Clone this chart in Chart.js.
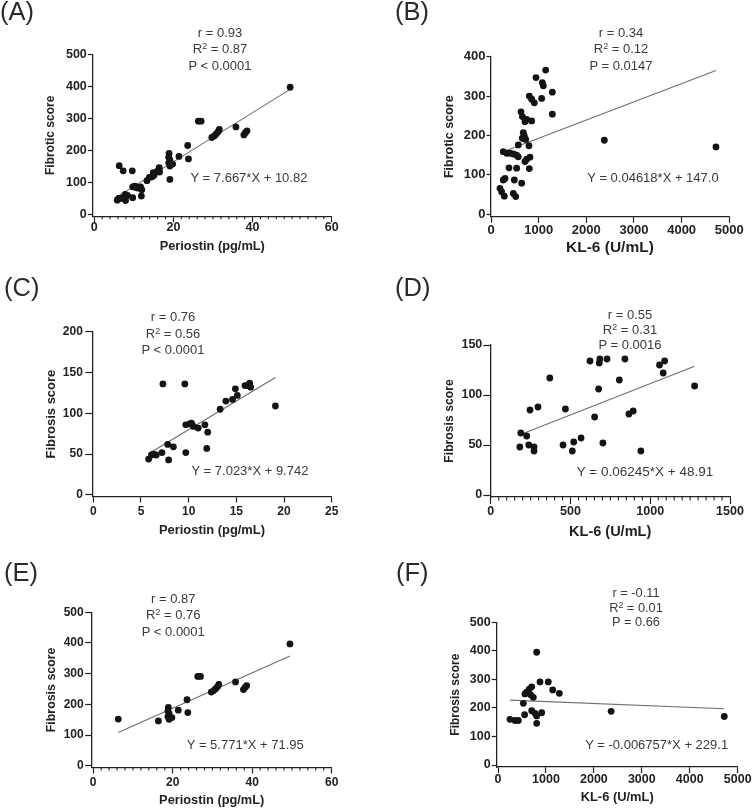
<!DOCTYPE html>
<html>
<head>
<meta charset="utf-8">
<script src="https://cdn.jsdelivr.net/npm/chart.js@4.4.1/dist/chart.umd.min.js"></script>
<style>
html,body{margin:0;padding:0;background:#fff;}
body{width:752px;height:809px;position:relative;overflow:hidden;font-family:"Liberation Sans",Arial,Helvetica,sans-serif;}
canvas{position:absolute;left:0;top:0;}
.lbl{position:absolute;font-size:25.5px;line-height:25.5px;color:#2a2a2a;white-space:nowrap;}
.stat{position:absolute;text-align:center;color:#3a3a3a;white-space:nowrap;transform:translateX(-50%);}
.stat sup{font-size:0.68em;line-height:0;vertical-align:0.5em;}
.eq{position:absolute;color:#3a3a3a;white-space:nowrap;transform:translate(-50%,-50%);}
</style>
</head>
<body>
<canvas id="cA" width="752" height="809"></canvas>
<canvas id="cB" width="752" height="809"></canvas>
<canvas id="cC" width="752" height="809"></canvas>
<canvas id="cD" width="752" height="809"></canvas>
<canvas id="cE" width="752" height="809"></canvas>
<canvas id="cF" width="752" height="809"></canvas>
<div id="overlay"></div>
<script>
// ---------------- DATA ----------------
// (C) Periostin vs Fibrosis score
const C_x = [7.3, 9.6, 5.8, 6.1, 6.3, 6.6, 7.2, 7.8, 7.9, 8.4, 9.7, 9.7, 10.1, 10.3, 10.5, 11.0, 11.7, 12.0, 11.9, 13.3, 13.9, 14.6, 14.9, 15.1, 15.9, 16.1, 16.4, 16.5, 19.1];
const C_y = [136, 136, 44, 49, 50, 49, 52, 62, 43, 59, 52, 86, 87, 88, 84, 82, 86, 77, 57, 105, 115, 117, 130, 122, 134, 134, 137, 132, 109];
// (E) Periostin vs Fibrosis score
const E_x = [6.3, 16.4, 18.9, 18.8, 19.1, 18.8, 19.1, 19.8, 21.4, 23.6, 23.8, 26.3, 27.0, 29.7, 30.3, 30.8, 31.3, 31.6, 35.8, 37.8, 38.2, 38.6, 49.5];
const E_y = [152, 146, 190, 178, 170, 160, 151, 157, 181, 215, 173, 291, 291, 240, 245, 251, 258, 265, 273, 248, 255, 261, 397];
// (A) Periostin vs Fibrotic score: all patients of (C) and (E)
const A_x = C_x.concat(E_x);
const A_y = C_y.concat(E_y);
// (B) KL-6 vs Fibrotic score
const B_x = [1147, 944, 1077, 1098, 1287, 804, 853, 909, 1063, 1287, 629, 658, 713, 748, 853, 678, 699, 657, 728, 573, 797, 258, 329, 399, 468, 538, 573, 818, 748, 713, 378, 538, 804, 294, 258, 489, 643, 189, 224, 279, 468, 518, 2378, 4720];
const B_y = [366, 347, 334, 326, 310, 300, 292, 283, 294, 254, 260, 248, 235, 241, 237, 207, 199, 193, 190, 176, 174, 159, 155, 155, 153, 150, 146, 145, 140, 134, 118, 117, 116, 91, 87, 87, 79, 66, 57, 46, 53, 45, 188, 171];
// (D) KL-6 vs Fibrosis score
const D_x = [182, 188, 225, 238, 246, 271, 271, 296, 370, 453, 468, 511, 520, 566, 622, 651, 676, 680, 684, 729, 703, 806, 841, 866, 893, 941, 1058, 1081, 1090, 1278];
const D_y = [48, 62, 59, 50, 85, 48, 44, 88, 117, 50, 86, 44, 53, 57, 134, 78, 106, 132, 136, 136, 52, 115, 136, 81, 84, 44, 130, 122, 134, 109];
// (F) KL-6 vs Fibrosis score
const F_x = [807, 876, 1049, 1141, 1279, 703, 653, 598, 563, 682, 737, 528, 250, 355, 424, 555, 703, 772, 911, 807, 807, 2360, 4720];
const F_y = [395, 291, 291, 263, 251, 274, 266, 255, 249, 246, 237, 216, 160, 156, 156, 176, 190, 181, 183, 172, 146, 188, 170];

// regression line end points (x, y) as drawn
const A_fit = [[5.8, 55.3], [49.5, 390.3]];
const B_fit = [[189, 155.7], [4720, 365.0]];
const C_fit = [[5.8, 50.5], [19.1, 143.9]];
const D_fit = [[182, 60.3], [1278, 128.7]];
const E_fit = [[6.3, 108.3], [49.5, 357.6]];
const F_fit = [[250, 227.4], [4720, 197.2]];

// tick labels
const A_xticks = [0, 20, 40, 60],            A_yticks = [0, 100, 200, 300, 400, 500];
const B_xticks = [0, 1000, 2000, 3000, 4000, 5000], B_yticks = [0, 100, 200, 300, 400];
const C_xticks = [0, 5, 10, 15, 20, 25],     C_yticks = [0, 50, 100, 150, 200];
const D_xticks = [0, 500, 1000, 1500],       D_yticks = [0, 50, 100, 150];
const E_xticks = [0, 20, 40, 60],            E_yticks = [0, 100, 200, 300, 400, 500];
const F_xticks = [0, 1000, 2000, 3000, 4000, 5000], F_yticks = [0, 100, 200, 300, 400, 500];

// texts
const labels = ['(A)', '(B)', '(C)', '(D)', '(E)', '(F)'];
const xTitles = ['Periostin (pg/mL)', 'KL-6 (U/mL)', 'Periostin (pg/mL)', 'KL-6 (U/mL)', 'Periostin (pg/mL)', 'KL-6 (U/mL)'];
const yTitles = ['Fibrotic score', 'Fibrotic score', 'Fibrosis score', 'Fibrosis score', 'Fibrosis score', 'Fibrosis score'];
const rTexts = ['r = 0.93', 'r = 0.34', 'r = 0.76', 'r = 0.55', 'r = 0.87', 'r = -0.11'];
const r2Texts = ['0.87', '0.12', '0.56', '0.31', '0.76', '0.01'];
const pTexts = ['P < 0.0001', 'P = 0.0147', 'P < 0.0001', 'P = 0.0016', 'P < 0.0001', 'P = 0.66'];
const eqTexts = ['Y = 7.667*X + 10.82', 'Y = 0.04618*X + 147.0', 'Y = 7.023*X + 9.742', 'Y = 0.06245*X + 48.91', 'Y = 5.771*X + 71.95', 'Y = -0.006757*X + 229.1'];

// ---------------- LAYOUT / STYLE ----------------
const FONT = '"Liberation Sans", Arial, Helvetica, sans-serif';
Chart.defaults.font.family = FONT;
const W = 752, H = 809;

const layouts = [
  {left:92.8, right:331.7, top:54.3, bottom:216.3, xmax:60, ymax:500, xOff:1.5, yOff:2, tickFont:12.5, xTitleFont:12.8, yTitleFont:12, xtl:6, ytl:5, ytp:1, xLabelY:227.7, xTitleY:246.7, yTitleX:51, minorStep:2, minorLen:3,
   lbl:[0,-1.5], stat:{cx:220, top:24.8, lh:16.5, fs:13}, eq:{cx:249, cy:177, fs:13}},
  {left:490.5, right:729.3, top:56.7, bottom:216.8, xmax:5000, ymax:400, xOff:0.5, yOff:2.5, tickFont:13, xTitleFont:15.5, yTitleFont:12.5, xtl:6, ytl:4, ytp:1, xLabelY:230, xTitleY:248, yTitleX:450, minorStep:0,
   lbl:[395,-1.5], stat:{cx:621, top:24.8, lh:16.5, fs:13}, eq:{cx:653, cy:177, fs:13}},
  {left:92.3, right:331.7, top:331.7, bottom:496.5, xmax:25, ymax:200, xOff:1, yOff:1.5, tickFont:12, xTitleFont:12.9, yTitleFont:13, xtl:6, ytl:7, ytp:2.5, xLabelY:512, xTitleY:530, yTitleX:51.7, minorStep:0,
   lbl:[4,275], stat:{cx:173, top:308.9, lh:16.8, fs:13}, eq:{cx:250, cy:470, fs:13}},
  {left:490.3, right:730, top:345, bottom:497, xmax:1500, ymax:150, xOff:0.5, yOff:2, tickFont:12.5, xTitleFont:14.5, yTitleFont:12.2, xtl:7, ytl:7, ytp:1, xLabelY:511.7, xTitleY:531.7, yTitleX:450, minorStep:50, minorLen:3.5,
   lbl:[395,275], stat:{cx:630, top:306.6, lh:15.3, fs:13}, eq:{cx:645, cy:471, fs:13.5}},
  {left:91.7, right:331.7, top:612.3, bottom:767.5, xmax:60, ymax:500, xOff:1.5, yOff:1.8, tickFont:12, xTitleFont:12.8, yTitleFont:12.4, xtl:6, ytl:6.5, ytp:1.5, xLabelY:782.3, xTitleY:800.7, yTitleX:51.7, minorStep:2, minorLen:3,
   lbl:[4,560], stat:{cx:173.3, top:591.2, lh:16.2, fs:13}, eq:{cx:245.3, cy:744.3, fs:13}},
  {left:496.7, right:737.7, top:622.3, bottom:767, xmax:5000, ymax:500, xOff:1.3, yOff:2, tickFont:12.5, xTitleFont:12.9, yTitleFont:12, xtl:6, ytl:5, ytp:1, xLabelY:779.3, xTitleY:797.3, yTitleX:456, minorStep:0,
   lbl:[396,560], stat:{cx:636, top:586, lh:14.5, fs:12.8}, eq:{cx:656.7, cy:744.3, fs:13}}
];

const panels = [
  {id:'cA', xs:A_x, ys:A_y, fit:A_fit, xt:A_xticks, yt:A_yticks},
  {id:'cB', xs:B_x, ys:B_y, fit:B_fit, xt:B_xticks, yt:B_yticks},
  {id:'cC', xs:C_x, ys:C_y, fit:C_fit, xt:C_xticks, yt:C_yticks},
  {id:'cD', xs:D_x, ys:D_y, fit:D_fit, xt:D_xticks, yt:D_yticks},
  {id:'cE', xs:E_x, ys:E_y, fit:E_fit, xt:E_xticks, yt:E_yticks},
  {id:'cF', xs:F_x, ys:F_y, fit:F_fit, xt:F_xticks, yt:F_yticks}
];

const AX = '#222';

const minorTicks = {
  id: 'minorTicks',
  afterDraw(chart, args, opts) {
    if (!opts || !opts.step) return;
    const s = chart.scales.x, ctx = chart.ctx;
    ctx.save();
    ctx.strokeStyle = AX; ctx.lineWidth = 1.1;
    ctx.beginPath();
    const n = Math.round(s.max / opts.step);
    for (let i = 1; i < n; i++) {
      const v = i * opts.step;
      if (opts.majors.indexOf(v) >= 0) continue;
      const px = s.getPixelForValue(v);
      ctx.moveTo(px, s.top);
      ctx.lineTo(px, s.top + opts.len);
    }
    ctx.stroke();
    ctx.restore();
  }
};

panels.forEach((p, k) => {
  const L = layouts[k];
  const areaW = L.right - L.left, areaH = L.bottom - L.top;
  const xmin = -L.xOff * L.xmax / (areaW - L.xOff);
  const ymin = -L.yOff * L.ymax / (areaH - L.yOff);
  const xtLH = L.xTitleFont * 1.2, ytLH = L.yTitleFont * 1.2;
  new Chart(document.getElementById(p.id), {
    type: 'scatter',
    data: {
      datasets: [
        {
          data: p.xs.map((x, i) => ({x: x, y: p.ys[i]})),
          backgroundColor: '#141414', borderColor: '#141414', borderWidth: 0,
          pointRadius: 3.4, pointHoverRadius: 3.4, order: 0
        },
        {
          data: p.fit.map(f => ({x: f[0], y: f[1]})),
          showLine: true, borderColor: '#6e6e6e', borderWidth: 1.1,
          pointRadius: 0, pointHoverRadius: 0, fill: false, order: 1
        }
      ]
    },
    options: {
      responsive: false, animation: false, events: [],
      layout: {padding: {top: L.top, right: W - L.right, left: 0, bottom: 0}},
      plugins: {
        legend: {display: false}, tooltip: {enabled: false},
        minorTicks: {step: L.minorStep, len: L.minorLen || 3, majors: p.xt}
      },
      scales: {
        x: {
          type: 'linear', position: 'bottom', min: xmin, max: L.xmax,
          afterBuildTicks: s => { s.ticks = p.xt.map(v => ({value: v})); },
          afterFit: s => { s.height = H - L.bottom; },
          ticks: {
            callback: v => String(v), autoSkip: false, maxRotation: 0, minRotation: 0,
            padding: (L.xLabelY - L.bottom) - L.xtl - L.tickFont / 2,
            color: AX, font: {size: L.tickFont, weight: 'bold', lineHeight: 1}
          },
          grid: {display: true, drawOnChartArea: false, drawTicks: true, tickLength: L.xtl, tickColor: AX, tickWidth: 1.2},
          border: {display: true, color: AX, width: 1.3},
          title: {
            display: true, text: xTitles[k], color: AX,
            font: {size: L.xTitleFont, weight: 'bold', lineHeight: 1.2},
            padding: {top: 0, bottom: H - L.xTitleY - xtLH / 2}
          }
        },
        y: {
          type: 'linear', position: 'left', min: ymin, max: L.ymax,
          afterBuildTicks: s => { s.ticks = p.yt.map(v => ({value: v})); },
          afterFit: s => { s.width = L.left; },
          ticks: {
            callback: v => String(v), autoSkip: false,
            padding: L.ytp, color: AX, font: {size: L.tickFont, weight: 'bold'}
          },
          grid: {display: true, drawOnChartArea: false, drawTicks: true, tickLength: L.ytl, tickColor: AX, tickWidth: 1.2},
          border: {display: true, color: AX, width: 1.3},
          title: {
            display: true, text: yTitles[k], color: AX,
            font: {size: L.yTitleFont, weight: 'bold', lineHeight: 1.2},
            padding: {top: L.yTitleX - ytLH / 2, bottom: 0}
          }
        }
      }
    },
    plugins: [minorTicks]
  });

  // text overlays
  const ov = document.getElementById('overlay');
  const lb = document.createElement('div');
  lb.className = 'lbl';
  lb.style.left = L.lbl[0] + 'px'; lb.style.top = L.lbl[1] + 'px';
  lb.textContent = labels[k];
  ov.appendChild(lb);

  const st = document.createElement('div');
  st.className = 'stat';
  st.style.left = L.stat.cx + 'px'; st.style.top = L.stat.top + 'px';
  st.style.fontSize = L.stat.fs + 'px'; st.style.lineHeight = L.stat.lh + 'px';
  st.innerHTML = '<div>' + rTexts[k] + '</div><div>R<sup>2</sup> = ' + r2Texts[k] + '</div><div>' + pTexts[k].replace('<', '&lt;') + '</div>';
  ov.appendChild(st);

  const eq = document.createElement('div');
  eq.className = 'eq';
  eq.style.left = L.eq.cx + 'px'; eq.style.top = L.eq.cy + 'px';
  eq.style.fontSize = L.eq.fs + 'px';
  eq.textContent = eqTexts[k];
  ov.appendChild(eq);
});
</script>
</body>
</html>
